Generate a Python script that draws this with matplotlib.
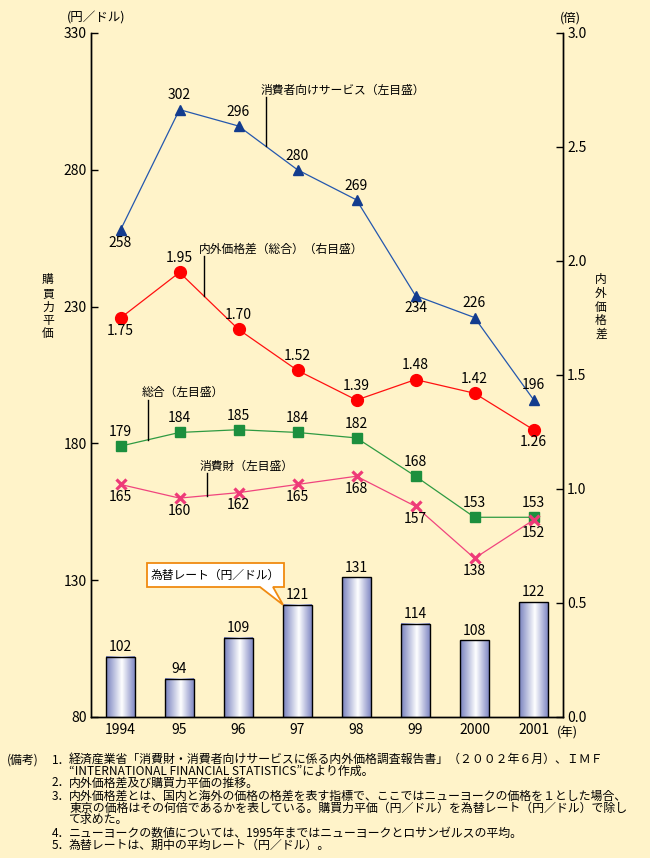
import numpy as np
import matplotlib
matplotlib.use('Agg')
import matplotlib.pyplot as plt
from matplotlib.patches import Polygon
from matplotlib.colors import LinearSegmentedColormap

plt.rcParams['font.family'] = ['Noto Sans CJK JP', 'DejaVu Sans']

years = ['1994', '95', '96', '97', '98', '99', '2000', '2001']
services = [258, 302, 296, 280, 269, 234, 226, 196]
price_gap = [1.75, 1.95, 1.70, 1.52, 1.39, 1.48, 1.42, 1.26]
overall = [179, 184, 185, 184, 182, 168, 153, 153]
goods = [165, 160, 162, 165, 168, 157, 138, 152]
fx_rate = [102, 94, 109, 121, 131, 114, 108, 122]

left_ticks = [80, 130, 180, 230, 280, 330]
right_ticks = [0.0, 0.5, 1.0, 1.5, 2.0, 2.5, 3.0]

# label side: 1 above, -1 below
services_side = [-1, 1, 1, 1, 1, -1, 1, 1]
gap_side = [-1, 1, 1, 1, 1, 1, 1, -1]
overall_side = [1, 1, 1, 1, 1, 1, 1, 1]
goods_side = [-1, -1, -1, -1, -1, -1, -1, -1]

note_head = '(備考)'
# (number text, number y, body lines, body centre y)
note_blocks = [
    ('1．', 760, ['経済産業省「消費財・消費者向けサービスに係る内外価格調査報告書」（２００２年６月）、ＩＭＦ',
                 '“INTERNATIONAL FINANCIAL STATISTICS”により作成。',
                 '内外価格差及び購買力平価の推移。'], 771),
    ('3．', 797, ['内外価格差とは、国内と海外の価格の格差を表す指標で、ここではニューヨークの価格を１とした場合、',
                 '東京の価格はその何倍であるかを表している。購買力平価（円／ドル）を為替レート（円／ドル）で除し',
                 'て求めた。'], 808),
    ('4．\n5．', 839.5, ['ニューヨークの数値については、1995年まではニューヨークとロサンゼルスの平均。',
                        '為替レートは、期中の平均レート（円／ドル）。'], 839.5),
]
extra_numbers = [('2．', 782)]

BG = '#FFF3C9'
W, H = 650, 858
fig = plt.figure(figsize=(6.5, 8.58), dpi=100, facecolor=BG)
AX_L, AX_R, AX_T, AX_B = 91, 563, 33, 717
ax = fig.add_axes([AX_L / W, 1 - AX_B / H, (AX_R - AX_L) / W, (AX_B - AX_T) / H])
ax.set_facecolor(BG)
ax2 = ax.twinx()

x = np.arange(len(years))
XL = (-0.5, len(years) - 0.5)
YL = (80, 330)
YR = (0, 3.0)

def px2x(px):
    return XL[0] + (px - AX_L) / (AX_R - AX_L) * (XL[1] - XL[0])

def py2v(py):
    return YL[1] - (py - AX_T) / (AX_B - AX_T) * (YL[1] - YL[0])

def py2r(py):
    return YR[1] - (py - AX_T) / (AX_B - AX_T) * (YR[1] - YR[0])

NUM_FS = 10
JP_FS = 8.5
NOTE_FS = 8.6
NOTE_LS = 0.87

# bars with gradient
bw = 0.49
cmap = LinearSegmentedColormap.from_list('barg', [(0, '#7780BE'), (0.55, '#FFFFFF'), (1, '#8189C4')])
grad = np.linspace(0, 1, 128).reshape(1, -1)
for xi, v in zip(x, fx_rate):
    ax.imshow(grad, extent=[xi - bw / 2, xi + bw / 2, YL[0], v], aspect='auto',
              cmap=cmap, interpolation='bilinear', zorder=2)
ax.bar(x, fx_rate, width=bw, facecolor='none', edgecolor='black', linewidth=1.0, zorder=3)
for xi, v in zip(x, fx_rate):
    ax.annotate(str(v), (xi, v), xytext=(0, 7), textcoords='offset points',
                ha='center', va='center', fontsize=NUM_FS, zorder=6)

# lines
ax.plot(x, services, color='#2457AE', lw=0.9, marker='^', ms=7.5,
        mfc='#133C8E', mec='#133C8E', zorder=4)
ax.plot(x, overall, color='#2E9A42', lw=0.9, marker='s', ms=7,
        mfc='#1C8F3E', mec='#1C8F3E', zorder=4)
ax.plot(x, goods, color='#F0447E', lw=0.9, marker='x', ms=6.5, mew=2.3,
        mec='#EE3A78', zorder=4)
ax2.plot(x, price_gap, color='#FF1010', lw=0.9, marker='o', ms=8.5,
         mfc='#FF0000', mec='#FF0000', zorder=4)

def labels(axis, vals, sides, fmt):
    for xi, v, s in zip(x, vals, sides):
        dy = 10.2 if s > 0 else -9.2
        axis.annotate(fmt(v), (xi, v), xytext=(0, dy), textcoords='offset points',
                      ha='center', va='center', fontsize=NUM_FS, zorder=6)

labels(ax, services, services_side, lambda v: str(v))
labels(ax, overall, overall_side, lambda v: str(v))
labels(ax, goods, goods_side, lambda v: str(v))
labels(ax2, price_gap, gap_side, lambda v: f'{v:.2f}')

# series names with leader lines
def leader(axis, vals, lead_px, top_py, conv, text_px, text_py, text):
    xl = px2x(lead_px)
    yb = np.interp(xl, x, vals)
    axis.plot([xl, xl], [conv(top_py), yb], color='black', lw=1.0, zorder=5)
    ax.text(px2x(text_px), py2v(text_py), text, ha='left', va='center',
            fontsize=JP_FS, zorder=6)

leader(ax, services, 266, 97, py2v, 261, 90, '消費者向けサービス（左目盛）')
leader(ax2, price_gap, 204, 256, py2r, 199, 249, '内外価格差（総合）（右目盛）')
leader(ax, overall, 148, 400, py2v, 142, 392, '総合（左目盛）')
leader(ax, goods, 207, 473, py2v, 200, 466, '消費財（左目盛）')

# callout for exchange rate
bx0, bx1, by0, by1 = px2x(147), px2x(284), py2v(587), py2v(563)
tip = (x[3] - bw / 2, fx_rate[3])
callout = Polygon([(bx0, by0), (px2x(260), by0), tip, (px2x(273), by0), (bx1, by0),
                   (bx1, by1), (bx0, by1)], closed=True, facecolor='white',
                  edgecolor='#F08A10', linewidth=1.3, zorder=7)
ax.add_patch(callout)
ax.text((bx0 + bx1) / 2, (by0 + by1) / 2, '為替レート（円／ドル）', ha='center', va='center',
        fontsize=JP_FS, zorder=8)

# axes styling
ax.set_xlim(*XL)
ax.set_ylim(*YL)
ax2.set_ylim(*YR)
ax.set_yticks(left_ticks)
ax.set_yticklabels([str(t) for t in left_ticks])
ax2.set_yticks(right_ticks)
ax2.set_yticklabels([f'{t:.1f}' for t in right_ticks])
ax.set_xticks(x)
ax.set_xticklabels(years)
for a in (ax, ax2):
    a.spines['top'].set_visible(False)
    for s in ('left', 'right', 'bottom'):
        a.spines[s].set_linewidth(1.0)
ax.tick_params(axis='y', direction='in', length=5, width=1, labelsize=NUM_FS, pad=3)
ax2.tick_params(axis='y', direction='in', length=5, width=1, labelsize=NUM_FS, pad=3)
ax.tick_params(axis='x', length=0, labelsize=NUM_FS, pad=4)

def ftext(px, py, s, **kw):
    fig.text(px / W, 1 - py / H, s, **kw)

ftext(96, 18, '(円／ドル)', ha='center', va='center', fontsize=9)
ftext(570, 18, '(倍)', ha='center', va='center', fontsize=9)
ftext(48, 307, '\n'.join('購買力平価'), ha='center', va='center', fontsize=JP_FS, linespacing=1.05)
ftext(601, 307, '\n'.join('内外価格差'), ha='center', va='center', fontsize=JP_FS, linespacing=1.05)
ftext(567, 733, '(年)', ha='center', va='center', fontsize=9)

# notes
ftext(7, 760, note_head, ha='left', va='center', fontsize=NOTE_FS)
for num, ny, body, by in note_blocks:
    ftext(52, ny, num, ha='left', va='center', fontsize=NOTE_FS, linespacing=NOTE_LS)
    ftext(69, by, '\n'.join(body), ha='left', va='center', fontsize=NOTE_FS, linespacing=NOTE_LS)
for num, ny in extra_numbers:
    ftext(52, ny, num, ha='left', va='center', fontsize=NOTE_FS)

fig.savefig('out.png', dpi=100, facecolor=BG)
